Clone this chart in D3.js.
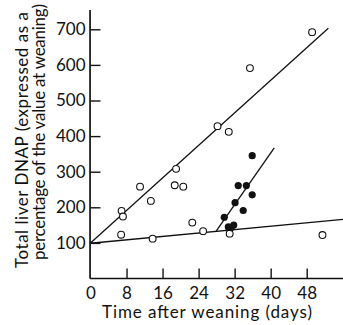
<!DOCTYPE html>
<html>
<head>
<meta charset="utf-8">
<script src="https://cdn.jsdelivr.net/npm/d3@7"></script>
<style>
  body { margin: 0; background: #fff; }
  text { font-family: Lato, "Open Sans", sans-serif; fill: #111; }
</style>
</head>
<body>
<div id="chart"></div>
<script>
// open circles: days after weaning, total liver DNAP (% of weaning value)
const openDays = [6.9, 7.2, 6.8, 11, 13.4, 13.8, 18.7, 19, 20.6, 22.6, 25, 28.2, 30.7, 30.9, 35.4, 49.2, 51.5]
const openPct  = [190, 174, 123, 258, 218, 112, 262, 308, 258, 157, 133, 428, 412, 126, 591, 692, 122]

// filled circles
const filledDays = [29.7, 30.6, 31.2, 31.8, 32.1, 32.8, 33.9, 34.6, 35.9, 35.9]
const filledPct  = [172, 145, 143, 150, 213, 261, 191, 261, 235, 345]

// fitted lines [x0, y0, x1, y1]
const lineUpper  = [0, 100, 52.8, 703]
const lineLower  = [0, 99, 56.2, 166]
const lineFilled = [27.9, 133, 40.8, 367]

const xTicks = [0, 8, 16, 24, 32, 40, 48]
const yTicks = [100, 200, 300, 400, 500, 600, 700]
const xTitle = "Time after weaning (days)"
const yTitle = ["Total liver DNAP (expressed as a", "percentage of the value at weaning)"]

let dim = {'width': 343, 'height': 325}

let svg = d3.select('#chart').append('svg')
    .attr('width', dim.width)
    .attr('height', dim.height)

let x = d3.scaleLinear().domain([0, 48]).range([90.5, 306.7])
let y = d3.scaleLinear().domain([0, 700]).range([278.5, 29.3])

// axis lines drawn by hand so they run past the last tick
svg.append('line')
    .attr('x1', x(-0.1)).attr('x2', x(-0.1))
    .attr('y1', y(0)).attr('y2', y(754))
    .attr('stroke', '#111').attr('stroke-width', 1.7)
svg.append('line')
    .attr('x1', x(-0.1)).attr('x2', dim.width)
    .attr('y1', y(0)).attr('y2', y(0))
    .attr('stroke', '#111').attr('stroke-width', 1.7)

let axisX = d3.axisBottom(x).tickValues(xTicks).tickSizeInner(-10).tickSizeOuter(0)
let axisY = d3.axisLeft(y).tickValues(yTicks).tickSizeInner(-10).tickSizeOuter(0)

let gx = svg.append('g')
    .attr('transform', `translate(0,${y(0)})`)
    .call(axisX)
gx.select('.domain').remove()
gx.selectAll('.tick line').filter(d => d === 0).remove()
gx.selectAll('.tick text').attr('y', 8)

let gy = svg.append('g')
    .attr('transform', `translate(${x(0)},0)`)
    .call(axisY)
gy.select('.domain').remove()
gy.selectAll('.tick text').attr('x', -5)

svg.selectAll('.tick line').attr('stroke', '#111').attr('stroke-width', 1.4)
svg.selectAll('.tick text')
    .attr('font-family', 'Lato, sans-serif')
    .attr('font-size', 17)
    .attr('fill', '#111')

// titles
svg.append('text')
    .attr('x', 207).attr('y', 318)
    .attr('text-anchor', 'middle')
    .attr('font-size', 17)
    .attr('textLength', 210)
    .text(xTitle)

yTitle.forEach((t, i) => {
  svg.append('text')
    .attr('transform', `translate(${28 + i * 17},${140 - i * 8}) rotate(-90)`)
    .attr('text-anchor', 'middle')
    .attr('font-size', 17)
    .attr('textLength', 256)
    .text(t)
})

// fitted lines
;[lineUpper, lineLower, lineFilled].forEach(l => {
  svg.append('line')
    .attr('x1', x(l[0])).attr('y1', y(l[1]))
    .attr('x2', x(l[2])).attr('y2', y(l[3]))
    .attr('stroke', '#111').attr('stroke-width', 1.3)
})

// points
svg.selectAll('circle.open')
    .data(openDays.map((d, i) => ({day: d, pct: openPct[i]})))
    .enter()
    .append('circle')
    .attr('class', 'open')
    .attr('cx', d => x(d.day))
    .attr('cy', d => y(d.pct))
    .attr('r', 3.4)
    .attr('fill', '#fff')
    .attr('stroke', '#111')
    .attr('stroke-width', 1.1)

svg.selectAll('circle.filled')
    .data(filledDays.map((d, i) => ({day: d, pct: filledPct[i]})))
    .enter()
    .append('circle')
    .attr('class', 'filled')
    .attr('cx', d => x(d.day))
    .attr('cy', d => y(d.pct))
    .attr('r', 3.6)
    .attr('fill', '#111')
</script>
</body>
</html>
